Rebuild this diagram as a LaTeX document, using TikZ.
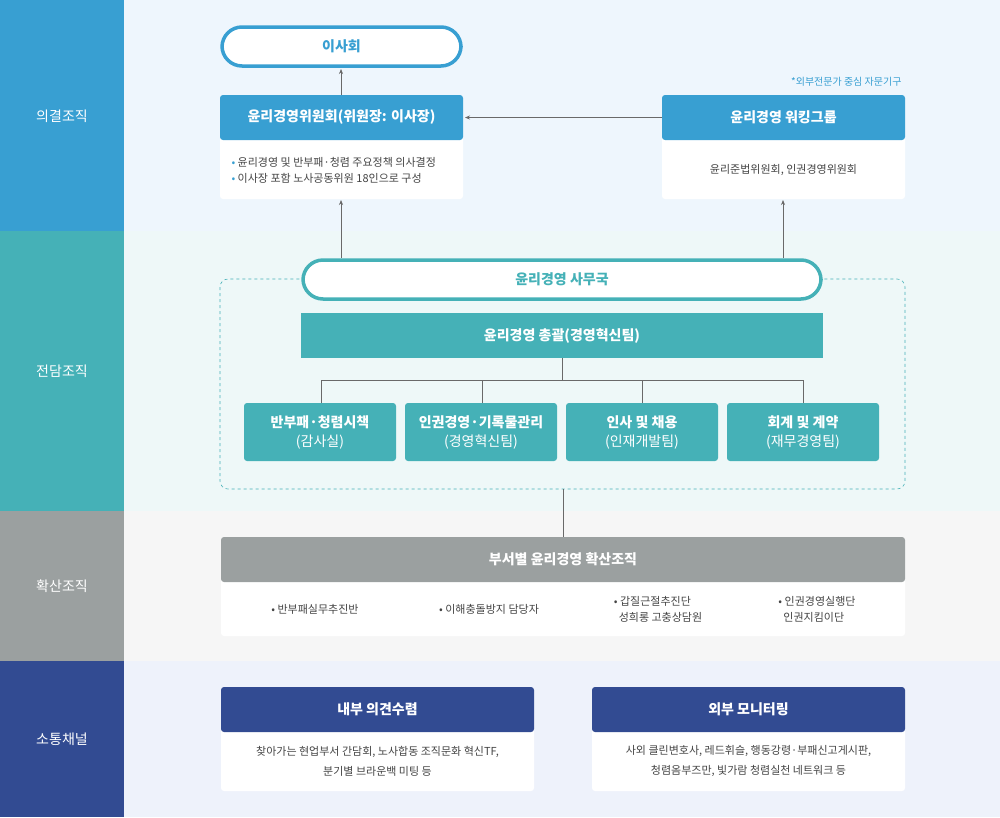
\documentclass[tikz,border=0pt]{standalone}
\usepackage{fontspec}
\setmainfont{Noto Sans CJK KR}
\usetikzlibrary{arrows.meta}
\definecolor{blueA}{HTML}{389FD2}
\definecolor{tealA}{HTML}{45B1B7}
\definecolor{grayA}{HTML}{9BA0A0}
\definecolor{navyA}{HTML}{324B92}
\definecolor{bgA}{HTML}{EEF6FD}
\definecolor{bgB}{HTML}{EEF8F8}
\definecolor{bgC}{HTML}{F6F6F6}
\definecolor{bgD}{HTML}{EEF2FB}
\definecolor{txt}{HTML}{444444}
\begin{document}
\begin{tikzpicture}[x=1pt,y=-1pt, >={Stealth[length=5pt,width=4pt]},
  head/.style={rounded corners=3pt,text=white,font=\fontsize{14}{17}\selectfont\bfseries},
  body/.style={fill=white,rounded corners=3pt},
  pill/.style={rounded corners=20pt,fill=white,line width=3.5pt,font=\fontsize{14}{17}\selectfont\bfseries},
  sidelabel/.style={text=white,font=\fontsize{14}{17}\selectfont},
  small/.style={text=txt,font=\fontsize{11}{16}\selectfont,align=center},
  link/.style={draw=txt!80,line width=0.7pt}]

  % bands
  \useasboundingbox (0,0) rectangle (1000,817);
  \fill[bgA] (124,0) rectangle (1000,231);
  \fill[bgB] (124,231) rectangle (1000,511);
  \fill[bgC] (124,511) rectangle (1000,661);
  \fill[bgD] (124,661) rectangle (1000,817);
  \fill[blueA] (0,0) rectangle (124,231);
  \fill[tealA] (0,231) rectangle (124,511);
  \fill[grayA] (0,511) rectangle (124,661);
  \fill[navyA] (0,661) rectangle (124,817);
  \node[sidelabel] (l1) at (62,116) {의결조직};
  \node[sidelabel] (l2) at (62,371) {전담조직};
  \node[sidelabel] (l3) at (62,586) {확산조직};
  \node[sidelabel] (l4) at (62,739) {소통채널};

  % decision
  \draw[pill,draw=blueA] (222,27) rectangle (461,66);
  \node[text=blueA,font=\fontsize{14}{17}\selectfont\bfseries] (board) at (341.5,46.5) {이사회};
  \coordinate (boardS) at (341,69);
  \fill[body] (220,120) rectangle (463,199);
  \fill[head,blueA] (220,95) rectangle (463,140);
  \node[head] (comm) at (341.5,117.5) {윤리경영위원회(위원장: 이사장)};
  \node[small,align=left,anchor=west] (commB) at (228,170)
    {\textcolor{blueA}{•}\ 윤리경영 및 반부패·청렴 주요정책 의사결정\\\textcolor{blueA}{•}\ 이사장 포함 노사공동위원 18인으로 구성};
  \fill[body] (662,120) rectangle (905,199);
  \fill[head,blueA] (662,95) rectangle (905,140);
  \node[head] (wg) at (783.5,117.5) {윤리경영 워킹그룹};
  \node[small] (wgB) at (783.5,170) {윤리준법위원회, 인권경영위원회};
  \node[text=blueA,font=\fontsize{10}{12}\selectfont,anchor=east] (note) at (905,82) {*외부전문가 중심 자문기구};
  \coordinate (commS) at (341,200);
  \coordinate (wgS) at (783,200);
  \coordinate (wgW) at (662,117.5);
  \coordinate (commE) at (465,117.5);
  \draw[link,->] (341,95) -- (boardS);
  \draw[link,->] (wgW) -- (commE);

  % office
  \draw[tealA,dashed,rounded corners=8pt,line width=0.6pt] (220,279) rectangle (905,489);
  \draw[link,->] (341,258) -- (commS);
  \draw[link,->] (783,258) -- (wgS);
  \draw[pill,draw=tealA] (303,260) rectangle (821,299);
  \node[text=tealA,font=\fontsize{14}{17}\selectfont\bfseries] (office) at (562,279.5) {윤리경영 사무국};
  \fill[tealA] (301,313) rectangle (823,358);
  \node[head] (gen) at (562,335.5) {윤리경영 총괄(경영혁신팀)};
  \draw[link] (562,358) -- (562,380);
  \draw[link] (321,403) -- (321,380) -- (803,380) -- (803,403);
  \foreach \x in {482,642} \draw[link] (\x,380) -- (\x,403);
  \foreach \x/\n/\a/\b in {244/t1/반부패·청렴시책/감사실,405/t2/인권경영·기록물관리/경영혁신팀,566/t3/인사 및 채용/인재개발팀,727/t4/회계 및 계약/재무경영팀}{
    \fill[tealA,rounded corners=3pt] (\x,403) rectangle (\x+152,461);
    \node[text=white,align=center,font=\fontsize{14}{19}\selectfont] (\n) at (\x+76,432)
      {\textbf{\a}\\(\b)};
  }

  % spread
  \draw[link] (563,489) -- (563,537);
  \fill[body] (221,560) rectangle (905,636);
  \fill[head,grayA] (221,537) rectangle (905,582);
  \node[head] (spread) at (563,559.5) {부서별 윤리경영 확산조직};
  \node[small] (s1) at (315,609) {• 반부패실무추진반};
  \node[small] (s2) at (489,609) {• 이해충돌방지 담당자};
  \node[small,align=left] (s3) at (658,609) {• 갑질근절추진단\\\ \ 성희롱 고충상담원};
  \node[small,align=left] (s4) at (817,609) {• 인권경영실행단\\\ \ 인권지킴이단};

  % channels
  \foreach \x/\n/\h/\t in {221/c1/내부 의견수렴/{찾아가는 현업부서 간담회, 노사합동 조직문화 혁신TF,\\분기별 브라운백 미팅 등},
                          592/c2/외부 모니터링/{사외 클린변호사, 레드휘슬, 행동강령·부패신고게시판,\\청렴옴부즈만, 빛가람 청렴실천 네트워크 등}}{
    \fill[body] (\x,710) rectangle (\x+313,791);
    \fill[head,navyA] (\x,687) rectangle (\x+313,732);
    \node[head] (\n) at (\x+156.5,709.5) {\h};
    \node[small,font=\fontsize{11}{20}\selectfont] (\n B) at (\x+156.5,761) {\t};
  }
\end{tikzpicture}
\end{document}
